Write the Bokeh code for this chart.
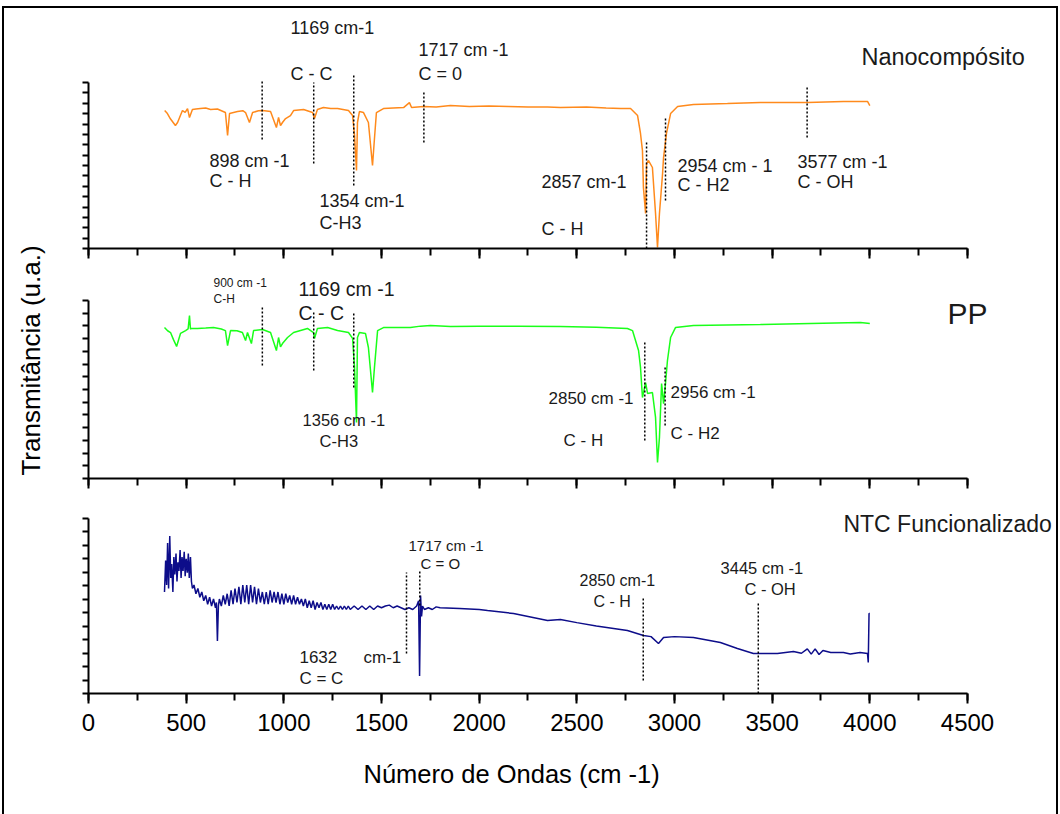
import numpy as np
from bokeh.plotting import figure
from bokeh.layouts import column, row
from bokeh.models import (ColumnDataSource, Range1d, SingleIntervalTicker, FixedTicker,
                          LinearAxis, Title)
from bokeh.embed import file_html
from bokeh.resources import INLINE
from bokeh.core.properties import value

# ---------------- data ----------------
# Nanocompósito (orange), transmittance in arbitrary units (0-100)
nano_x = [390, 404, 420, 445, 456, 470, 481, 495, 507, 517,
          532, 550, 573, 600, 625, 660, 701, 712, 722, 763,
          790, 804, 824, 840, 870, 891, 932, 962, 973, 983,
          993, 1009, 1034, 1050, 1101, 1147, 1157, 1172, 1203, 1240,
          1275, 1331, 1352, 1362, 1372, 1377, 1387, 1408, 1433, 1454,
          1464, 1474, 1510, 1560, 1613, 1643, 1654, 1715, 1780, 1853,
          1950, 2050, 2150, 2250, 2350, 2416, 2550, 2650, 2724, 2775,
          2811, 2826, 2836, 2841, 2852, 2857, 2867, 2887, 2903, 2913,
          2923, 2939, 2944, 2959, 2980, 3016, 3097, 3271, 3440, 3681,
          3865, 3988, 4000]
nano_y = [83.1, 81.3, 78.0, 74.1, 75.9, 80.0, 83.1, 82.0, 84.3, 78.9,
          83.7, 84.0, 84.3, 84.6, 83.7, 84.0, 81.9, 68.1, 81.3, 82.5,
          83.0, 81.9, 75.9, 81.9, 83.0, 83.1, 82.5, 72.9, 78.9, 74.0,
          75.9, 78.3, 80.1, 83.1, 83.7, 81.9, 78.3, 83.7, 84.9, 84.3,
          84.3, 83.1, 80.1, 68.1, 47.0, 75.9, 82.5, 81.9, 75.9, 50.0,
          66.3, 81.9, 84.3, 84.6, 84.9, 87.9, 84.9, 85.5, 85.2, 86.1,
          85.5, 85.8, 85.5, 85.2, 85.2, 84.9, 85.2, 84.6, 84.3, 84.3,
          80.1, 69.3, 59.0, 36.7, 21.1, 51.2, 53.0, 48.8, 21.1, 0.6,
          21.1, 45.2, 54.8, 69.3, 81.3, 85.5, 86.7, 87.3, 88.0, 88.0,
          88.6, 88.6, 86.1]

# PP (green)
pp_x = [389, 405, 420, 435, 451, 471, 497, 510, 517, 522,
        527, 558, 600, 640, 680, 701, 712, 727, 760, 788,
        804, 814, 834, 845, 891, 932, 962, 973, 983, 993,
        1019, 1050, 1121, 1152, 1157, 1172, 1224, 1275, 1331, 1352,
        1362, 1372, 1377, 1387, 1418, 1433, 1454, 1464, 1480, 1510,
        1580, 1648, 1700, 1751, 1853, 2000, 2200, 2416, 2600, 2759,
        2785, 2816, 2826, 2836, 2852, 2862, 2887, 2903, 2913, 2923,
        2934, 2944, 2954, 2964, 2980, 3005, 3097, 3440, 3696, 3952,
        4000]
pp_y = [84.8, 83.0, 82.0, 78.0, 74.2, 81.5, 83.1, 84.0, 91.6, 84.0,
        84.3, 84.3, 84.5, 84.8, 84.0, 83.1, 74.7, 83.1, 83.0, 82.0,
        77.5, 82.0, 75.8, 83.1, 83.7, 82.0, 71.9, 79.2, 74.0, 75.8,
        79.2, 82.0, 84.3, 82.0, 78.7, 84.3, 84.8, 83.1, 82.0, 78.7,
        62.4, 31.5, 79.2, 82.0, 81.5, 73.6, 48.3, 62.4, 83.1, 84.8,
        84.8, 84.8, 85.6, 86.0, 85.4, 85.6, 85.6, 85.4, 85.0, 84.3,
        83.1, 71.9, 62.4, 45.5, 53.9, 47.8, 48.3, 34.3, 9.0, 23.0,
        53.4, 42.1, 53.4, 66.3, 79.2, 84.8, 86.0, 86.5, 87.1, 87.6,
        87.1]

# NTC Funcionalizado (navy)
ntc_x = [389, 395, 400, 405, 410, 416, 421, 426, 432, 437,
         442, 448, 453, 458, 463, 469, 474, 479, 484, 490,
         495, 500, 506, 511, 516, 522, 527, 532, 540, 550,
         560, 570, 580, 590, 600, 610, 620, 630, 640, 650,
         655, 660, 665, 670, 680, 690, 700, 710, 720, 730,
         740, 750, 760, 770, 780, 790, 800, 810, 820, 830,
         840, 850, 860, 870, 880, 890, 900, 910, 920, 930,
         940, 950, 960, 970, 980, 990, 1000, 1010, 1020, 1030,
         1040, 1050, 1060, 1070, 1080, 1090, 1100, 1110, 1120, 1130,
         1140, 1150, 1160, 1170, 1180, 1190, 1200, 1210, 1220, 1230,
         1240, 1250, 1260, 1270, 1280, 1290, 1300, 1310, 1320, 1330,
         1340, 1360, 1380, 1400, 1420, 1440, 1460, 1480, 1500, 1520,
         1540, 1560, 1580, 1600, 1620, 1640, 1660, 1680, 1690, 1695,
         1700, 1705, 1710, 1720, 1740, 1760, 1780, 1800, 1900, 2000,
         2043, 2176, 2350, 2416, 2500, 2600, 2759, 2841, 2880, 2918,
         2944, 3000, 3097, 3235, 3322, 3404, 3527, 3609, 3650, 3680,
         3700, 3720, 3740, 3760, 3800, 3865, 3900, 3950, 3988, 3992,
         3996, 4000]
ntc_y = [58, 76, 62, 86, 60, 90, 66, 74, 58, 78,
         68, 80, 64, 75, 70, 82, 66, 78, 70, 81,
         67, 77, 69, 80, 66, 78, 64, 60, 62, 57,
         60, 55, 58, 53, 56, 51, 55, 50, 54, 49,
         52, 30, 50, 54, 50, 56, 51, 57, 50, 59,
         51, 60, 52, 61, 51, 62, 52, 62, 51, 62,
         52, 61, 51, 60, 52, 58, 51, 58, 51, 59,
         52, 58, 52, 58, 51, 57, 51, 57, 52, 56,
         51, 56, 51, 55, 51, 54, 50, 54, 49, 53,
         49, 53, 48, 52, 49, 52, 48, 51, 48, 51,
         48, 51, 48, 50, 48, 50, 48, 50, 48, 50,
         48, 50, 48, 50, 48, 50, 48, 50, 49, 50,
         50.5, 49, 50, 49, 48, 49, 48, 50, 53, 10,
         56, 44, 50, 48, 49, 48, 49.5, 49, 48.6, 48,
         47.4, 45.7, 41.7, 42.3, 40.5, 38.6, 36, 33.1, 32.5, 28.6,
         32, 32.5, 32, 29.1, 25.7, 22.9, 22.9, 24, 23, 25.5,
         22.5, 25.5, 22.3, 24.6, 23.4, 23.4, 22.6, 23.4, 22.9, 17.7,
         45.7, 45.7]

# band markers (dotted lines): position, bottom, top
nano_marks_x = [889, 1153, 1358, 1717, 2857, 2954, 3679]
nano_marks_y0 = [65.7, 51.2, 38.0, 63.9, 0.0, 28.9, 66.9]
nano_marks_y1 = [101.2, 100.0, 104.8, 94.0, 65.0, 78.9, 97.6]

pp_marks_x = [890, 1153, 1358, 2848, 2952]
pp_marks_y0 = [63.5, 60.7, 51.1, 21.3, 29.8]
pp_marks_y1 = [97.2, 93.3, 93.3, 77.5, 62.4]

ntc_marks_x = [1628, 1696, 2840, 3429]
ntc_marks_y0 = [22.9, 50.3, 7.4, 0.0]
ntc_marks_y1 = [69.1, 70.3, 54.9, 52.0]

x_ticks_major = 500
x_min, x_max = 0, 4500
y_tick_counts = [16, 14, 13]   # number of tick intervals on each panel's left axis

# ---------------- annotation texts ----------------
nano_txt = ["1169 cm-1", "C - C", "1717 cm -1", "C = 0", "898 cm -1", "C - H",
            "1354 cm-1", "C-H3", "2857 cm-1", "C - H", "2954 cm - 1", "C - H2",
            "3577 cm -1", "C - OH", "Nanocompósito"]
nano_tx = [1034, 1034, 1689, 1689, 619, 619, 1183, 1183, 2319, 2319, 3015, 3015, 3630, 3630, 3957]
nano_ty = [133.1, 105.4, 119.3, 105.4, 53.0, 40.4, 28.9, 15.1, 39.8, 12.0, 50.0, 38.0, 52.4, 39.8, 115.1]
nano_ts = ["18px"] * 14 + ["23.5px"]

pp_txt = ["900 cm -1", "C-H", "1169 cm -1", "C - C", "1356 cm -1", "C-H3",
          "2850 cm -1", "C - H", "2956 cm -1", "C - H2", "PP"]
pp_tx = [640, 640, 1075, 1075, 1096, 1183, 2355, 2432, 2980, 2980, 4398]
pp_ty = [109.6, 101.1, 106.2, 92.7, 32.6, 20.8, 44.9, 21.3, 48.3, 25.3, 92.7]
pp_ts = ["12px", "12px", "19.5px", "19.5px", "16.5px", "16.5px", "17px", "17px", "17px", "17px", "30px"]

ntc_txt = ["1717 cm -1", "C = O", "1632", "cm-1", "C = C", "2850 cm-1", "C - H",
           "3445 cm -1", "C - OH", "NTC Funcionalizado"]
ntc_tx = [1638, 1700, 1080, 1408, 1080, 2514, 2585, 3236, 3358, 3865]
ntc_ty = [84.6, 74.3, 20.6, 20.6, 8.6, 64.6, 52.6, 72.0, 60.0, 97.1]
ntc_ts = ["15px", "15px", "17px", "17px", "17px", "16px", "16px", "16.5px", "16.5px", "23px"]

FONT = "Liberation Sans"
PXU = 0.19533  # pixels per wavenumber unit
FRAME_W = 968
LEFT_STRIP = 50
x_range = Range1d(0, FRAME_W / PXU)


def hide_labels(ax):
    ax.major_label_text_font_size = "1px"
    ax.major_label_text_color = None
    ax.major_label_standoff = 0


def make_panel(height, frame_h, px_per_y, bottom, show_labels, n_yticks):
    p = figure(width=84 - LEFT_STRIP + FRAME_W, height=height, x_range=x_range,
               y_range=Range1d(0, frame_h / px_per_y),
               output_backend="svg", toolbar_location=None,
               min_border_left=84 - LEFT_STRIP, min_border_right=0, min_border_top=0,
               min_border_bottom=bottom)
    p.outline_line_color = None
    p.xgrid.visible = False
    p.ygrid.visible = False
    p.background_fill_color = "white"
    p.border_fill_color = "white"
    xa = p.xaxis[0]
    xa.bounds = (x_min, x_max)
    xa.ticker = SingleIntervalTicker(interval=x_ticks_major, num_minor_ticks=2)
    xa.axis_line_width = 2
    xa.axis_line_color = "black"
    xa.major_tick_line_width = 2
    xa.minor_tick_line_width = 2
    xa.major_tick_in = 0
    xa.minor_tick_in = 0
    xa.major_tick_out = 10
    xa.minor_tick_out = 7
    if show_labels:
        xa.major_label_text_font = FONT
        xa.major_label_text_font_size = "24px"
        xa.major_label_text_color = "black"
        xa.major_label_standoff = 10
    else:
        hide_labels(xa)
    ya = p.yaxis[0]
    ya.bounds = (0, 100)
    ya.ticker = FixedTicker(ticks=[i * 100.0 / n_yticks for i in range(n_yticks + 1)])
    ya.axis_line_width = 2
    ya.axis_line_color = "black"
    ya.major_tick_line_width = 2
    ya.major_tick_in = 0
    ya.major_tick_out = 6
    hide_labels(ya)
    return p


def spacer_axis(size):
    ax = LinearAxis(bounds=(0, 4500), ticker=FixedTicker(ticks=[2000]))
    ax.axis_line_color = None
    ax.major_tick_line_color = None
    ax.minor_tick_line_color = None
    ax.major_tick_in = 0
    ax.major_tick_out = size
    ax.minor_tick_out = 0
    hide_labels(ax)
    return ax


def add_text(p, txt, tx, ty, ts):
    src = ColumnDataSource(dict(x=tx, y=ty, text=txt, size=ts))
    p.text(x="x", y="y", text="text", source=src, text_font=value(FONT),
           text_font_size="size", text_color="#1a1a1a",
           text_align="left", text_baseline="alphabetic")


def add_marks(p, mx, y0, y1):
    src = ColumnDataSource(dict(x=mx, y0=y0, y1=y1))
    p.segment(x0="x", y0="y0", x1="x", y1="y1", source=src,
              line_color="black", line_width=1.5, line_dash="2 2")


# panel 1
p1 = make_panel(254, 240, 1.66, 14, False, y_tick_counts[0])
p1.line(nano_x, nano_y, line_color="#ff8a1c", line_width=1.5)
add_marks(p1, nano_marks_x, nano_marks_y0, nano_marks_y1)
add_text(p1, nano_txt, nano_tx, nano_ty, nano_ts)

# panel 2
p2 = make_panel(236, 216, 1.78, 20, False, y_tick_counts[1])
p2.line(pp_x, pp_y, line_color="#1aff1a", line_width=1.5)
add_marks(p2, pp_marks_x, pp_marks_y0, pp_marks_y1)
add_text(p2, pp_txt, pp_tx, pp_ty, pp_ts)

# panel 3
p3 = make_panel(316, 195, 1.75, 121, True, y_tick_counts[2])
p3.line(ntc_x, ntc_y, line_color="#0d0d8a", line_width=1.5)
add_marks(p3, ntc_marks_x, ntc_marks_y0, ntc_marks_y1)
add_text(p3, ntc_txt, ntc_tx, ntc_ty, ntc_ts)
p3.add_layout(spacer_axis(20), "below")
p3.add_layout(Title(text="Número de Ondas (cm -1)", align="left", offset=275,
                    standoff=8, text_font=FONT, text_font_size="25.5px",
                    text_font_style="normal", text_color="black"), "below")

# left strip holding the shared y-axis title
p0 = figure(width=LEFT_STRIP, height=806, x_range=Range1d(0, LEFT_STRIP), y_range=Range1d(0, 806),
            x_axis_type=None, y_axis_type=None, output_backend="svg", toolbar_location=None,
            min_border=0)
p0.outline_line_color = None
p0.background_fill_color = "white"
p0.border_fill_color = "white"
p0.text(x=[26], y=[454], text=["Transmitância (u.a.)"], angle=np.pi / 2,
        text_align="center", text_baseline="middle", text_font=value(FONT),
        text_font_size="26px", text_color="black")

layout = row(p0, column(p1, p2, p3, spacing=0), spacing=0,
             styles={"margin-left": "2px", "margin-top": "6px",
                     "border-top": "2px solid black",
                     "border-left": "2px solid black",
                     "border-right": "2px solid black"})

open("out.html", "w").write(file_html(layout, INLINE))
